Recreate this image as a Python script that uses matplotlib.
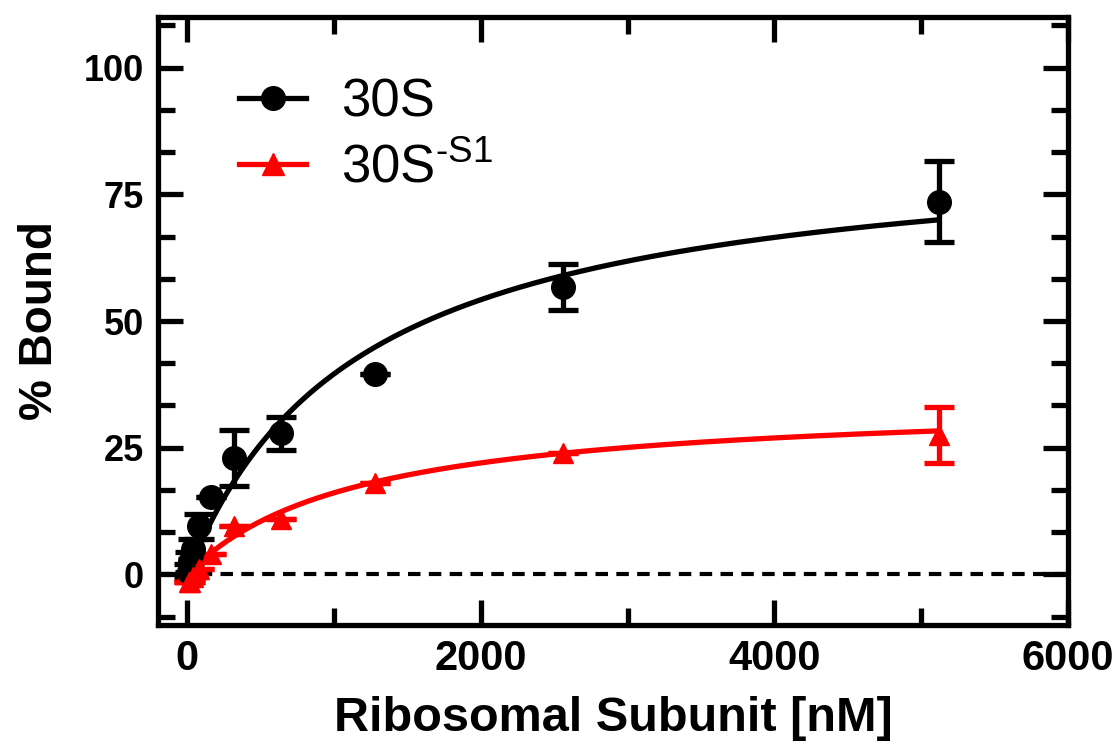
import numpy as np
import matplotlib
matplotlib.use("Agg")
import matplotlib.pyplot as plt
from matplotlib.ticker import MultipleLocator

# concentrations [nM]
conc = [10, 20, 40, 80, 160, 320, 640, 1280, 2560, 5120]

# 30S
bound_30s = [0.5, 2.5, 5.0, 9.5, 15.2, 23.0, 27.8, 39.5, 56.7, 73.5]
err_30s = [1.5, 2.0, 2.0, 2.5, 0.0, 5.5, 3.2, 0.0, 4.6, 8.0]

# 30S without S1
bound_s1 = [-1.5, -1.5, -0.5, 1.0, 4.0, 9.5, 11.0, 18.0, 24.0, 27.5]
err_s1 = [0, 0, 0, 0, 0, 0, 0, 0, 0, 5.6]

# one-site binding fit: Bmax, Kd
fit_30s = (86.0, 1173.0)
fit_s1 = (34.7, 1155.0)

xticks = [0, 2000, 4000, 6000]
yticks = [0, 25, 50, 75, 100]

plt.rcParams["font.family"] = ["Liberation Sans", "DejaVu Sans"]

fig = plt.figure(figsize=(11.18, 7.48), dpi=100)
ax = fig.add_axes([0.1413, 0.1644, 0.814, 0.8129])

ax.axhline(0, color="black", lw=3, ls=(0, (3, 2)), zorder=1)

xs = np.linspace(0, conc[-1], 400)
for (bmax, kd), col in [(fit_30s, "black"), (fit_s1, "red")]:
    ax.plot(xs, bmax * xs / (kd + xs), color=col, lw=3.8, zorder=2,
            solid_capstyle="round")

for y, e, col in [(bound_30s, err_30s, "black"), (bound_s1, err_s1, "red")]:
    _, caps, bars = ax.errorbar(conc, y, yerr=e, fmt="none", ecolor=col,
                                elinewidth=3.8, capsize=11, capthick=3.8,
                                zorder=3)
    for b in bars:
        b.set_capstyle("round")
ax.plot(conc, bound_30s, "o", color="black", ms=17, zorder=4)
ax.plot(conc, bound_s1, "^", color="red", ms=15, zorder=5)

# legend handles
ax.plot([], [], "-o", color="black", lw=3.8, ms=17, label="30S")
ax.plot([], [], "-^", color="red", lw=3.8, ms=16,
        label="30S$^{\\mathregular{\u2010S1}}$")
ax.legend(loc="upper left", frameon=False, fontsize=38, handlelength=1.27,
          handletextpad=0.66, labelspacing=0.28, borderaxespad=0.0,
          bbox_to_anchor=(0.066, 0.935))

ax.set_xlim(-200, 6000)
ax.set_ylim(-10, 110)
ax.set_xticks(xticks)
ax.set_yticks(yticks)
ax.xaxis.set_minor_locator(MultipleLocator(1000))
ax.yaxis.set_minor_locator(MultipleLocator(25 / 3))

for s in ax.spines.values():
    s.set_linewidth(3.8)
ax.tick_params(which="major", direction="in", length=18, width=3.8,
               top=True, right=True, labelsize=26, pad=10)
ax.tick_params(which="minor", direction="in", length=12, width=3.8,
               top=True, right=True)
for lab in ax.get_yticklabels():
    lab.set_fontweight("bold")
for lab in ax.get_xticklabels():
    lab.set_fontweight("bold")
    lab.set_fontsize(30)

ax.set_ylabel("% Bound", fontsize=33, fontweight="bold", labelpad=16)
ax.set_xlabel("Ribosomal Subunit [nM]", fontsize=35, fontweight="bold",
              labelpad=12)

fig.savefig("out.png", dpi=100)
